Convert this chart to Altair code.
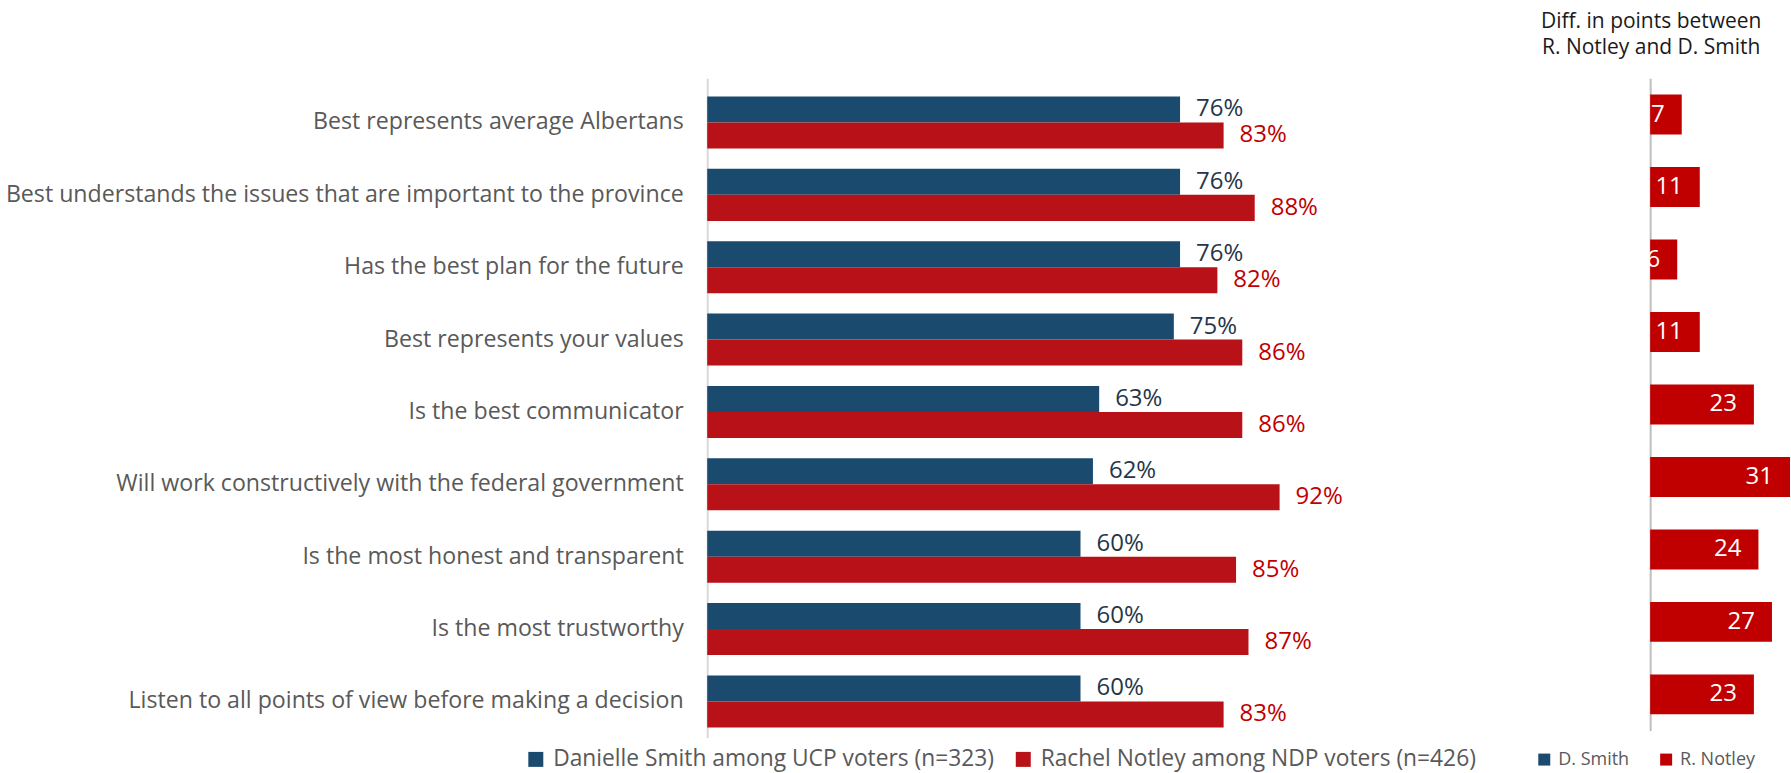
import altair as alt
import pandas as pd

categories = [
    "Best represents average Albertans",
    "Best understands the issues that are important to the province",
    "Has the best plan for the future",
    "Best represents your values",
    "Is the best communicator",
    "Will work constructively with the federal government",
    "Is the most honest and transparent",
    "Is the most trustworthy",
    "Listen to all points of view before making a decision",
]
smith = [76, 76, 76, 75, 63, 62, 60, 60, 60]
notley = [83, 88, 82, 86, 86, 92, 85, 87, 83]
diff = [7, 11, 6, 11, 23, 31, 24, 27, 23]
series_long = ["Danielle Smith among UCP voters (n=323)", "Rachel Notley among NDP voters (n=426)"]
series_short = ["D. Smith", "R. Notley"]
diff_title = ["Diff. in points between", "R. Notley and D. Smith"]

BLUE = "#1A4B6F"
RED = "#B81117"
RED2 = "#C00000"
NAVY_TXT = "#263648"
GRAY_TXT = "#595959"
FONT = "Open Sans"

rows = []
for c, s, n in zip(categories, smith, notley):
    rows.append({"category": c, "series": series_long[0], "value": s, "label": f"{s}%"})
    rows.append({"category": c, "series": series_long[1], "value": n, "label": f"{n}%"})
df = pd.DataFrame(rows)
df_r = pd.DataFrame({"category": categories, "diff": diff, "party": [series_short[1]] * len(diff)})

x_left = alt.X("value:Q", scale=alt.Scale(domain=[0, 105]), axis=None)
y_left = alt.Y(
    "category:N", sort=categories,
    scale=alt.Scale(paddingInner=0, paddingOuter=0.055, align=1),
    axis=alt.Axis(title=None, labelFont=FONT, labelFontSize=23.2, labelColor=GRAY_TXT,
                  labelPadding=24, ticks=False, tickSize=0, domain=True,
                  domainColor="#D9D9D9", domainWidth=2, labelLimit=1000,
                  minExtent=707, maxExtent=707),
)
yoff = alt.YOffset("series:N", sort=series_long,
                   scale=alt.Scale(domain=series_long, paddingInner=0, paddingOuter=0.39))

base = alt.Chart(df)
bars = base.mark_bar().encode(
    x=x_left, y=y_left, yOffset=yoff,
    color=alt.Color("series:N", scale=alt.Scale(domain=series_long, range=[BLUE, RED]),
                    legend=alt.Legend(orient="none", legendX=-183, legendY=670,
                                      direction="horizontal", title=None,
                                      symbolType="square", symbolSize=225,
                                      symbolStrokeWidth=0, labelFont=FONT,
                                      labelFontSize=22.8, labelColor=GRAY_TXT,
                                      labelOffset=6, columnPadding=17, padding=0,
                                      labelLimit=1000)),
)
txt_s = base.transform_filter(alt.datum.series == series_long[0]).mark_text(
    align="left", dx=16, font=FONT, fontSize=24, color=NAVY_TXT
).encode(x=x_left, y=y_left, yOffset=yoff, text="label:N")
txt_n = base.transform_filter(alt.datum.series == series_long[1]).mark_text(
    align="left", dx=16, font=FONT, fontSize=24, color=RED2
).encode(x=x_left, y=y_left, yOffset=yoff, text="label:N")

left = alt.layer(bars, txt_s, txt_n).properties(width=654, height=660)

x_r = alt.X("diff:Q", scale=alt.Scale(domain=[0, 31]), axis=None)
y_r = alt.Y(
    "category:N", sort=categories,
    scale=alt.Scale(paddingInner=0.449, paddingOuter=0.2245),
    axis=alt.Axis(title=None, labels=False, ticks=False, domain=True,
                  domainColor="#BFBFBF", domainWidth=2, minExtent=0, maxExtent=0),
)
rbase = alt.Chart(df_r)
rbars = rbase.mark_bar().encode(
    x=x_r, y=y_r,
    color=alt.Color("party:N", scale=alt.Scale(domain=series_short, range=[BLUE, RED2]),
                    legend=alt.Legend(orient="none", legendX=-115, legendY=673,
                                      direction="horizontal", title=None,
                                      symbolType="square", symbolSize=144,
                                      symbolStrokeWidth=0, labelFont=FONT,
                                      labelFontSize=18, labelColor=GRAY_TXT,
                                      labelOffset=5, columnPadding=28, padding=0)),
)
rtxt = rbase.mark_text(align="right", dx=-17, font=FONT, fontSize=24, color="white").encode(
    x=x_r, y=y_r, text="diff:Q"
)
right = alt.layer(rbars, rtxt).properties(
    width=140, height=653,
    title=alt.TitleParams(diff_title, anchor="start", align="center", frame="group", dx=1,
                          font=FONT, fontSize=21, fontWeight="normal",
                          color="#1A1A1A", lineHeight=26, offset=20),
)

chart = alt.hconcat(left, right, spacing=290, bounds="flush").resolve_scale(
    color="independent", y="independent", x="independent", yOffset="independent"
).resolve_legend(color="independent").properties(
    padding={"left": 0, "top": 10, "right": 0, "bottom": 0}
).configure(font=FONT, view=alt.ViewConfig(stroke="transparent"))

chart.save("out.html", embed_options={"renderer": "svg", "actions": False})
